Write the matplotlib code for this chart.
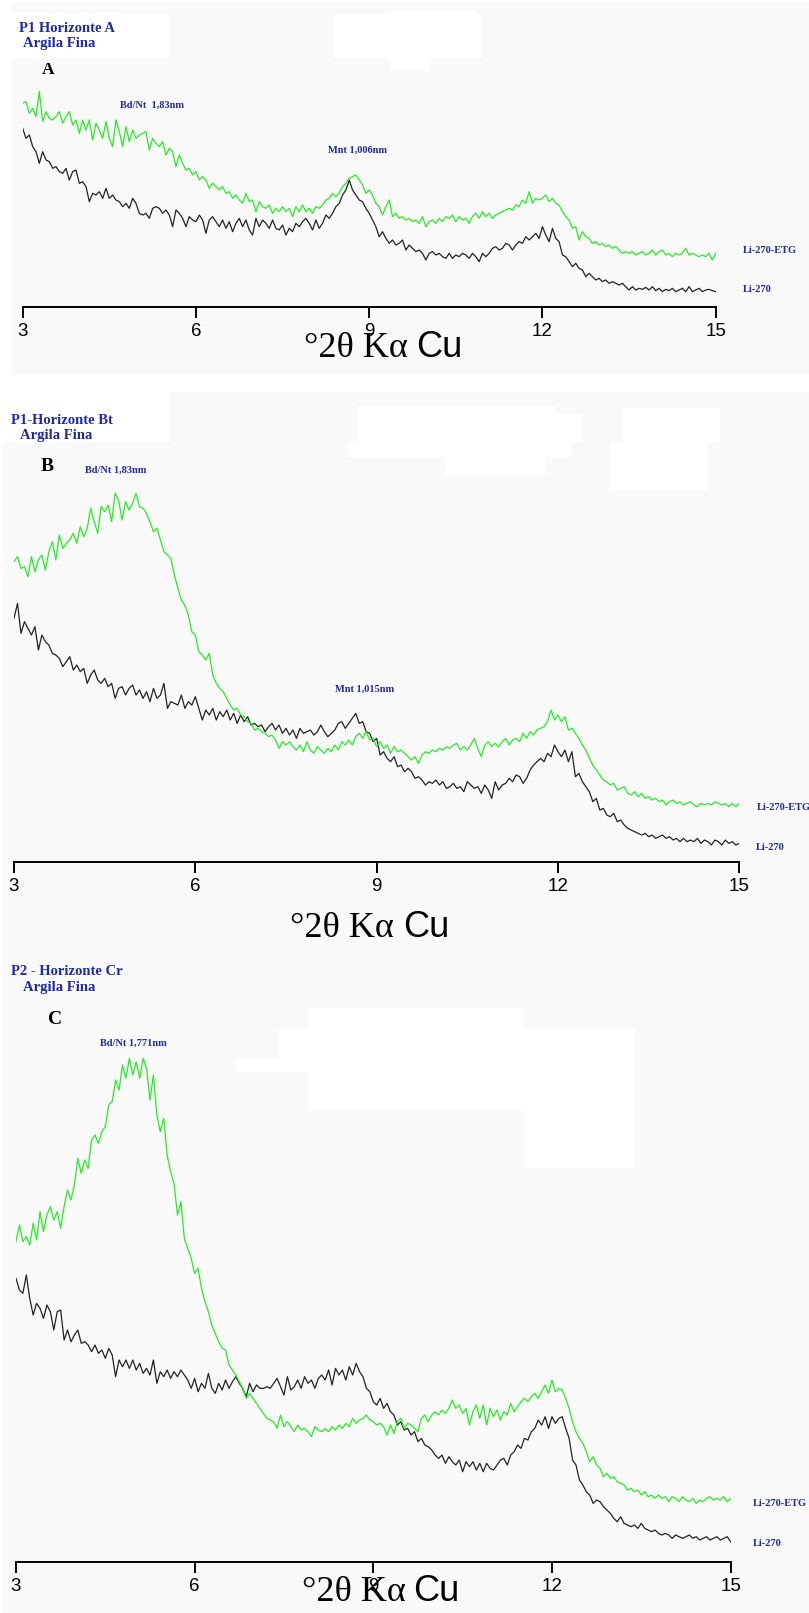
# XRD patterns of fine clay fractions (Li-270 and ethylene glycol treated Li-270-ETG)
import numpy as np
import matplotlib.pyplot as plt
from matplotlib.patches import Rectangle

W, H = 809, 1613

# scan grid, 3 to 15 degrees 2-theta
two_theta = np.linspace(3, 15, 209)
tick_pos = [3, 6, 9, 12, 15]
tick_txt = ["3", "6", "9", "12", "15"]

# ---- panel A: P1 Horizonte A ----
etg_A = [930, 935, 900, 915, 890, 965, 875, 905, 885, 880,
         890, 905, 870, 890, 905, 865, 880, 840, 880, 850,
         880, 820, 870, 850, 825, 875, 825, 800, 880, 845,
         800, 860, 815, 850, 825, 835, 840, 845, 790, 825,
         810, 800, 815, 775, 795, 785, 740, 775, 750, 730,
         735, 715, 725, 700, 710, 700, 675, 690, 680, 670,
         680, 660, 665, 645, 655, 640, 630, 660, 635, 640,
         605, 635, 620, 615, 625, 600, 615, 605, 620, 605,
         615, 590, 620, 605, 625, 605, 615, 600, 620, 615,
         625, 640, 645, 660, 650, 660, 680, 690, 705, 710,
         715, 700, 685, 660, 670, 655, 630,
         620, 595, 620, 640, 590, 600, 585, 590, 580, 585,
         575, 580, 570, 590, 560, 575, 580, 570, 585, 575,
         590, 585, 595, 575, 590, 580, 585, 570, 590, 600,
         585, 605, 590, 600, 585, 595, 600, 605, 610, 615,
         610, 625, 620, 640, 630, 665, 630, 645, 640, 645,
         655, 635, 645, 630, 625, 605, 590, 580, 555, 560,
         520, 545, 530, 525, 510, 515, 505, 510, 500, 505,
         495, 500, 490, 480, 485, 480, 485, 475, 480, 485,
         475, 480, 490, 475, 485, 490, 475, 480, 470, 480,
         475, 480, 495, 475, 480, 475, 470, 475, 470, 480,
         460, 480]
raw_A = [855, 825, 835, 800, 785, 750, 785, 760, 755, 735,
         740, 725, 720, 735, 700, 725, 730, 690, 695, 680,
         635, 660, 655, 665, 645, 675, 645, 655, 640, 635,
         620, 630, 615, 645, 630, 600, 595, 600, 585, 615,
         620, 615, 600, 610, 595, 560, 610, 600, 585, 560,
         590, 580, 575, 595, 580, 540, 580, 590, 575, 560,
         580, 555, 575, 545, 570, 585, 560, 580, 550, 535,
         585, 560, 580, 570, 555, 580, 555, 550, 565, 535,
         555, 545, 570, 560, 575, 585, 570, 550, 580, 555,
         570, 595, 585, 600, 620, 630, 655, 670, 700, 670,
         655, 640, 635, 615, 600, 580, 560,
         530, 545, 525, 510, 520, 505, 510, 520, 490, 505,
         495, 485, 490, 480, 460, 480, 485, 475, 480, 470,
         465, 480, 465, 475, 470, 480, 475, 465, 480, 470,
         455, 480, 470, 480, 495, 500, 490, 495, 510, 505,
         490, 505, 515, 510, 530, 520, 530, 540, 525, 560,
         535, 515, 555, 525, 515, 475, 470, 455, 440, 450,
         435, 430, 410, 420, 410, 400, 405, 395, 400, 390,
         395, 390, 385, 390, 380, 370, 380, 370, 375, 372,
         378, 370, 380, 368, 375, 365, 372, 368, 375, 365,
         370, 375, 365, 380, 365, 370, 375, 365, 370, 372,
         368, 365]

# ---- panel B: P1-Horizonte Bt ----
etg_B = [1240, 1255, 1220, 1225, 1195, 1255, 1210, 1245, 1260, 1215,
         1270, 1300, 1245, 1320, 1280, 1295, 1305, 1325, 1295, 1345,
         1315, 1340, 1400, 1360, 1325, 1405, 1390, 1410, 1360, 1445,
         1425, 1365, 1420, 1395, 1415, 1445, 1405, 1400, 1385, 1360,
         1330, 1340, 1305, 1270, 1260, 1250, 1200, 1160, 1125, 1110,
         1080, 1030, 1020, 970, 960, 945, 965, 900, 875, 860,
         850, 830, 810, 795, 800, 780, 775, 760, 755, 735,
         740, 730, 725, 715, 720, 705, 680, 700, 690, 700,
         685, 675, 690, 670, 700, 675, 665, 685, 675, 665,
         680, 670, 690, 675, 700, 690, 705, 690, 715, 725,
         710, 730, 705, 710, 685,
         700, 680, 690, 665, 685, 670, 675, 665, 655, 645,
         655, 635, 660, 670, 665, 675, 670, 680, 675, 685,
         680, 690, 695, 675, 685, 675, 690, 710, 680, 655,
         690, 700, 685, 695, 685, 700, 710, 690, 705, 710,
         700, 725, 710, 730, 720, 735, 740, 745, 760, 795,
         765, 780, 760, 775, 735, 740, 725, 710, 690, 675,
         650, 630, 615, 600, 585, 580, 570, 575, 555, 560,
         565, 545, 540, 550, 535, 545, 530, 535, 525, 530,
         520, 525, 510, 520, 525, 515, 520, 510, 515, 520,
         510, 505, 515, 510, 515, 510, 520, 515, 510, 515,
         505, 515, 505, 515]
raw_B = [1070, 1115, 1025, 1060, 1040, 1020, 1045, 975, 1020, 1000,
         990, 965, 960, 950, 925, 940, 955, 915, 930, 910,
         920, 875, 900, 915, 885, 875, 890, 865, 875, 830,
         860, 865, 840, 860, 870, 840, 855, 830, 850, 820,
         860, 830, 840, 875, 800, 820, 815, 810, 840, 800,
         820, 810, 835, 800, 765, 795, 780, 800, 765, 790,
         775, 795, 765, 785, 755, 780, 760, 775, 750, 755,
         745, 750, 730, 745, 755, 735, 750, 725, 740, 720,
         735, 710, 740, 725, 730, 735, 720, 730, 750, 730,
         715, 725, 735, 755, 760, 740, 755, 770, 785, 755,
         760, 730, 725, 700, 710,
         660, 670, 650, 640, 655, 625, 630, 610, 620, 610,
         590, 595, 585, 570, 580, 575, 585, 570, 580, 560,
         565, 575, 560, 565, 550, 580, 570, 560, 565, 545,
         570, 555, 530, 580, 555, 570, 575, 590, 580, 600,
         595, 575, 590, 615, 630, 640, 650, 640, 665, 655,
         690, 670, 655, 675, 640, 670, 595, 605, 580, 565,
         550, 520, 530, 495, 500, 480, 475, 485, 460, 465,
         450, 440, 435, 430, 425, 420, 425, 415, 420, 410,
         415, 420, 410, 415, 405, 410, 400, 410, 400, 405,
         400, 410, 395, 405, 400, 390, 405, 400, 390, 405,
         395, 400, 390, 395]

# ---- panel C: P2 - Horizonte Cr ----
etg_C = [1440, 1490, 1440, 1455, 1430, 1495, 1445, 1530, 1470, 1520,
         1545, 1505, 1530, 1480, 1545, 1595, 1565, 1610, 1690, 1645,
         1685, 1660, 1745, 1760, 1735, 1770, 1785, 1850, 1860, 1925,
         1895, 1970, 1930, 1990, 1940, 1980, 1930, 1990, 1960, 1865,
         1940, 1820, 1770, 1810, 1700, 1650, 1615, 1520, 1560, 1450,
         1420, 1390, 1345, 1360, 1300, 1260, 1230, 1190, 1165, 1140,
         1120, 1115, 1070, 1055, 1040, 1020, 1000, 970, 985, 970,
         955, 940, 925, 910, 905, 900, 880, 920, 885, 900,
         885, 870, 890, 875, 880, 870, 855, 885, 875, 870,
         880, 870, 885, 875, 890, 880, 895, 885, 910, 895,
         905, 910, 920, 905, 900, 890,
         895, 885, 860, 890, 865, 900, 910, 880, 895, 890,
         880, 870, 910, 920, 900, 920, 930, 920, 935, 925,
         940, 965, 940, 950, 925, 940, 890, 930, 950, 910,
         950, 890, 940, 915, 935, 905, 930, 920, 955, 930,
         945, 960, 970, 960, 975, 985, 970, 990, 1010, 985,
         1025, 990, 1000, 995, 970, 940, 900, 870, 850, 835,
         810, 780, 795, 770, 760, 735, 745, 730, 735, 720,
         715, 710, 695, 700, 690, 695, 680, 690, 675, 680,
         670, 680, 670, 675, 660, 675, 670, 660, 675, 665,
         660, 670, 655, 665, 660, 670, 675, 665, 670, 665,
         675, 660, 670]
raw_C = [1330, 1295, 1285, 1340, 1270, 1220, 1255, 1240, 1210, 1250,
         1230, 1175, 1230, 1235, 1145, 1175, 1140, 1160, 1175, 1135,
         1140, 1130, 1110, 1130, 1105, 1115, 1090, 1120, 1100, 1035,
         1085, 1065, 1085, 1060, 1085, 1055, 1075, 1045, 1060, 1040,
         1085, 1015, 1050, 1035, 1055, 1030, 1050, 1035, 1055, 1040,
         1025, 1000, 1030, 990, 1015, 1000, 1045, 1000, 985, 1015,
         995, 1025, 1000, 1020, 1035, 1015, 1000, 975, 1015, 990,
         1010, 1000, 1000, 1005, 1000, 1015, 1030, 1005, 980, 1035,
         995, 1005, 1025, 1000, 1035, 1015, 1025, 1000, 1030, 1040,
         1025, 1055, 1010, 1060, 1040, 1055, 1025, 1065, 1040, 1075,
         1050, 1035, 1000, 990, 960, 950,
         970, 940, 955, 930, 920, 890, 900, 875, 880, 860,
         870, 840, 850, 830, 825, 815, 800, 790, 800, 775,
         795, 780, 770, 785, 750, 780, 765, 780, 755, 775,
         750, 775, 760, 755, 770, 785, 790, 770, 800, 810,
         830, 820, 850, 845, 870, 880, 905, 890, 915, 880,
         915, 895, 910, 915, 880, 850, 785, 770, 725, 710,
         690, 680, 655, 665, 660, 645, 635, 625, 610, 600,
         615, 595, 590, 585, 590, 580, 595, 580, 575, 570,
         575, 565, 560, 565, 560, 550, 560, 555, 550, 555,
         560, 550, 555, 545, 550, 555, 545, 550, 555, 545,
         550, 555, 540]

BLUE = "#1e28a8"
GREEN = "#22ee22"
DARK = "#222222"
BG = "#f9f9f9"
SERIF = "Liberation Serif"
SANS = "Liberation Sans"

fig = plt.figure(figsize=(W / 100, H / 100), dpi=100)
fig.patch.set_facecolor("white")


def rect(x, y, w, h, color):
    fig.patches.append(Rectangle((x / W, 1 - (y + h) / H), w / W, h / H,
                                 transform=fig.transFigure, facecolor=color,
                                 edgecolor="none", zorder=-10))


def txt(x, y, s, size, color=BLUE, family=SERIF, weight="bold", ha="left"):
    fig.text(x / W, 1 - y / H, s, fontsize=size, color=color, family=family,
             fontweight=weight, ha=ha, va="baseline")


# background and blanked areas of the scanned figure
rect(12, 3, 797, 372, BG)
rect(3, 392, 806, 1221, BG)
for x, y, w, h in [(12, 13, 157, 46), (333, 15, 149, 43), (391, 10, 85, 5),
                   (391, 58, 39, 13), (0, 392, 170, 50), (357, 406, 199, 36),
                   (556, 414, 27, 28), (347, 442, 225, 15), (445, 457, 100, 20),
                   (622, 408, 98, 34), (610, 442, 98, 49), (308, 1008, 217, 20),
                   (279, 1028, 356, 30), (236, 1058, 399, 14), (308, 1072, 327, 39),
                   (523, 1111, 112, 57)]:
    rect(x, y, w, h, "white")


def panel(left, top, right, bottom, ylo, yhi, etg, raw):
    ax = fig.add_axes([left / W, 1 - bottom / H, (right - left) / W, (bottom - top) / H])
    ax.set_facecolor("none")
    ax.plot(two_theta, raw, color=DARK, lw=0.9)
    ax.plot(two_theta, etg, color=GREEN, lw=0.9)
    ax.set_xlim(3, 15)
    ax.set_ylim(ylo, yhi)
    for s in ["left", "right", "top"]:
        ax.spines[s].set_visible(False)
    ax.spines["bottom"].set_linewidth(1.4)
    ax.set_yticks([])
    ax.set_xticks(tick_pos)
    ax.set_xticklabels(tick_txt, family=SANS, fontsize=13.5)
    ax.tick_params(axis="x", direction="out", length=8, width=1.4, pad=3.5)
    return ax


panel(22.7, 80, 715.7, 307, 319, 1000, etg_A, raw_A)
panel(14, 475, 739.3, 861.7, 340, 1500, etg_B, raw_B)
panel(16, 1055, 730.6, 1561.7, 480, 2000, etg_C, raw_C)

# panel A texts
txt(19, 31.7, "P1 Horizonte A", 10.5)
txt(22.7, 46.7, "Argila Fina", 10.5)
txt(42, 74, "A", 12.5, color="black")
txt(120, 108, "Bd/Nt  1,83nm", 7.5)
txt(328, 153, "Mnt 1,006nm", 7.5)
txt(743, 253, "Li-270-ETG", 7.5)
txt(743, 292, "Li-270", 7.5)
txt(408, 357, "°2θ Kα", 26, color="black", weight="normal", ha="right")
txt(416, 357, "Cu", 26, color="black", family=SANS, weight="normal")

# panel B texts
txt(11, 424, "P1-Horizonte Bt", 10.5)
txt(19.6, 439, "Argila Fina", 10.5)
txt(41, 470.7, "B", 14, color="black")
txt(85, 472.7, "Bd/Nt 1,83nm", 7.5)
txt(335, 692, "Mnt 1,015nm", 7.5)
txt(757, 810, "Li-270-ETG", 7.5)
txt(756, 850, "Li-270", 7.5)
txt(394, 937.3, "°2θ Kα", 26, color="black", weight="normal", ha="right")
txt(403, 937.3, "Cu", 26, color="black", family=SANS, weight="normal")

# panel C texts
txt(11.4, 975, "P2 - Horizonte Cr", 10.5)
txt(23, 990.7, "Argila Fina", 10.5)
txt(48, 1024, "C", 14, color="black")
txt(99.6, 1045.7, "Bd/Nt 1,771nm", 7.5)
txt(753, 1505.7, "Li-270-ETG", 7.5)
txt(753, 1545.7, "Li-270", 7.5)
txt(406, 1601, "°2θ Kα", 26, color="black", weight="normal", ha="right")
txt(413, 1601, "Cu", 26, color="black", family=SANS, weight="normal")

fig.savefig("out.png", dpi=100, facecolor="white")
